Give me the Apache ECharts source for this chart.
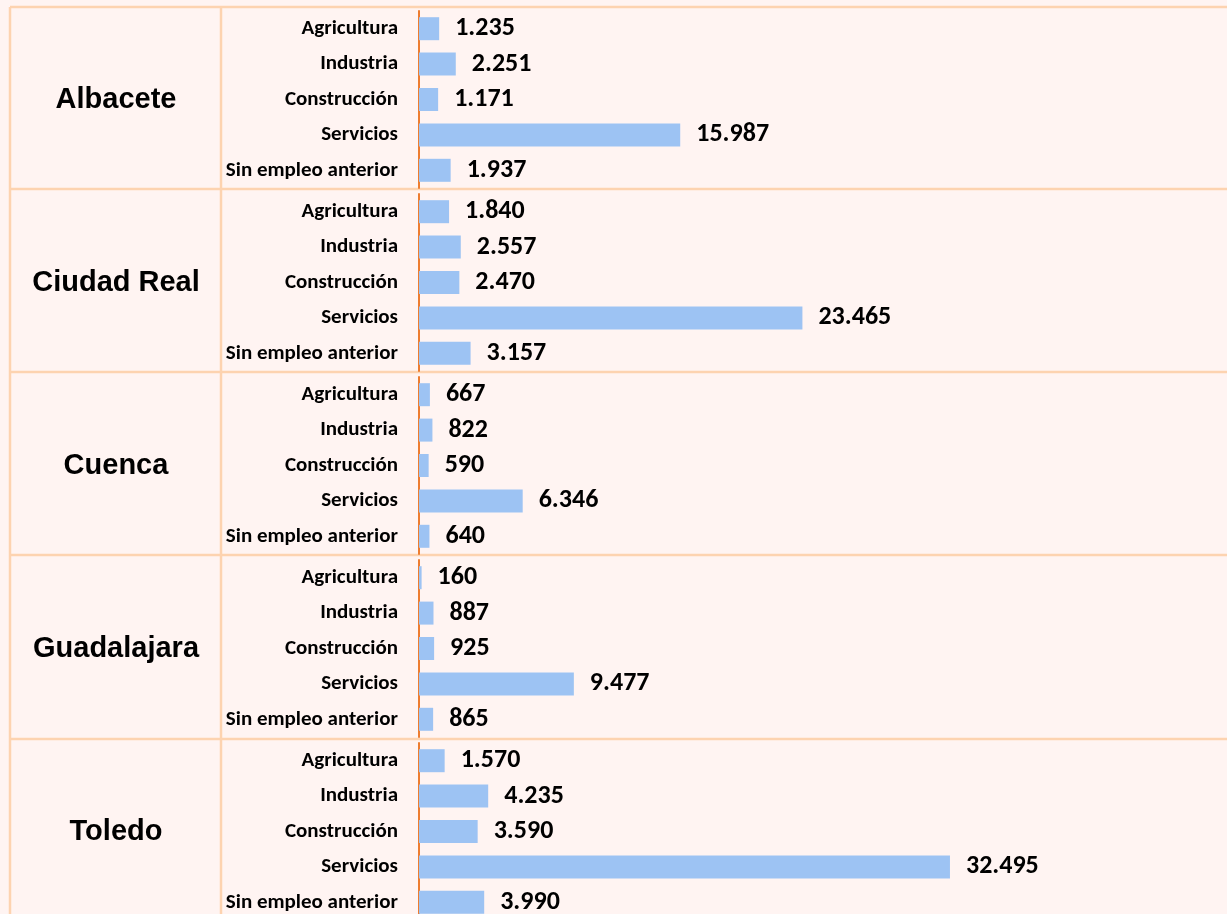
<!DOCTYPE html>
<html>
<head>
<meta charset="utf-8">
<script src="https://cdn.jsdelivr.net/npm/echarts@6/dist/echarts.min.js"></script>
<style>
  html, body { margin: 0; padding: 0; background: #fff4f2; overflow: hidden; }
  #chart { width: 1227px; height: 930px; }
</style>
</head>
<body>
<div id="chart"></div>
<script>
const provinces = ['Albacete', 'Ciudad Real', 'Cuenca', 'Guadalajara', 'Toledo']
const sectors = ['Agricultura', 'Industria', 'Construcción', 'Servicios', 'Sin empleo anterior']
const albacete = [1235, 2251, 1171, 15987, 1937]
const ciudadReal = [1840, 2557, 2470, 23465, 3157]
const cuenca = [667, 822, 590, 6346, 640]
const guadalajara = [160, 887, 925, 9477, 865]
const toledo = [1570, 4235, 3590, 32495, 3990]
const groups = [albacete, ciudadReal, cuenca, guadalajara, toledo]

// miles con punto, como en el original
const fmt = v => String(v).replace(/\B(?=(\d{3})+(?!\d))/g, '.')

const chart = echarts.init(document.getElementById('chart'))

const gridTops = [11, 194, 377, 560, 743]
const grid = gridTops.map(t => ({ left: 419, right: 0, top: t, height: 177 }))

const xAxis = groups.map((g, i) => ({
  type: 'value', gridIndex: i, min: 0, max: 49450, show: false
}))

const yAxis = []
groups.forEach((g, i) => {
  yAxis.push({
    type: 'category', gridIndex: i, data: sectors, inverse: true,
    axisLine: { show: true, lineStyle: { color: '#ed7d31', width: 2 } },
    axisTick: { show: false },
    axisLabel: {
      margin: 21, color: '#000', fontWeight: 'bold', fontSize: 21,
      fontFamily: 'Carlito, Lato, sans-serif'
    }
  })
  yAxis.push({
    type: 'category', gridIndex: i, data: [provinces[i]], position: 'left',
    offset: 295,
    axisLine: { show: false }, axisTick: { show: false },
    axisLabel: {
      margin: 8, align: 'center', color: '#000', fontWeight: 'bold', fontSize: 29,
      fontFamily: '"Liberation Sans", Arial, sans-serif'
    }
  })
})

const series = groups.map((g, i) => ({
  type: 'bar', xAxisIndex: i, yAxisIndex: i * 2, data: g,
  barWidth: 23,
  itemStyle: { color: '#9dc3f3' },
  label: {
    show: true, position: 'right', distance: 16,
    color: '#000', fontWeight: 'bold', fontSize: 26,
    fontFamily: 'Carlito, Lato, sans-serif',
    formatter: p => fmt(p.value)
  }
}))

// bordes de la tabla
const border = { stroke: '#fdd3b0', lineWidth: 2.5 }
const hLines = [7, 189, 372, 555, 739]
const vLines = [10, 221]
const graphic = [
  ...hLines.map(y => ({ type: 'line', shape: { x1: 10, y1: y, x2: 1227, y2: y }, style: border, z: -1 })),
  ...vLines.map(x => ({ type: 'line', shape: { x1: x, y1: 7, x2: x, y2: 930 }, style: border, z: -1 }))
]

chart.setOption({
  backgroundColor: '#fff4f2',
  animation: false,
  grid, xAxis, yAxis, series, graphic
})
</script>
</body>
</html>
